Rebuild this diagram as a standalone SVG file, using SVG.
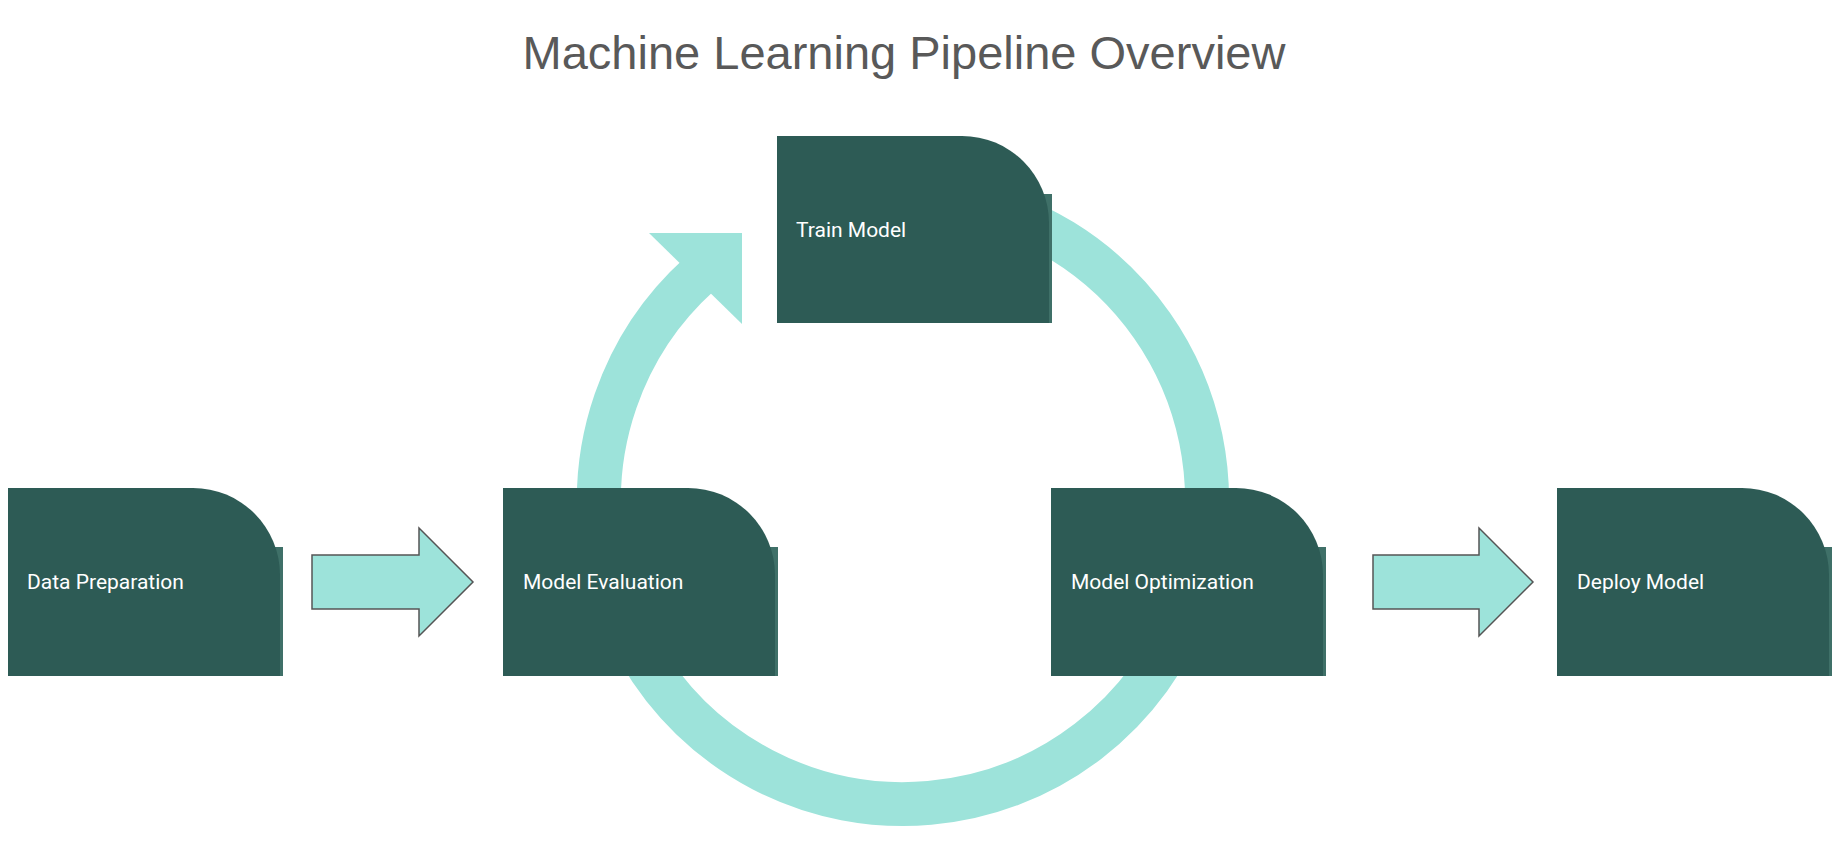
<svg xmlns="http://www.w3.org/2000/svg" width="1842" height="846" viewBox="0 0 1842 846">
  <style>
    .title { font-family: "Liberation Sans", Arial, sans-serif; font-size: 47px; fill: #595959; }
    .ring { fill: none; stroke: #9de3da; stroke-width: 44; stroke-linecap: butt; }
    .head { fill: #9de3da; stroke: none; }
    .block { fill: #9de3da; stroke: #555555; stroke-width: 1.5; stroke-linejoin: miter; }
    .back { fill: #3f7068; }
    .front { fill: #2d5b55; }
    .label { font-family: Roboto, "Noto Sans", "Liberation Sans", sans-serif; font-size: 21px; fill: #ffffff; }
  </style>
  <rect x="0" y="0" width="1842" height="846" fill="#ffffff"/>
  <text class="title" x="904" y="69" text-anchor="middle">Machine Learning Pipeline Overview</text>

  <g id="connectors">
    <path id="c-train-opt" class="ring" d="M 955.8 200.6 A 304 304 0 0 1 1202.4 552.8"/>
    <path id="c-opt-eval" class="ring" d="M 1188.7 604 A 304 304 0 0 1 639.7 652"/>
    <path id="c-eval-train" class="ring" d="M 603.6 552.8 A 304 304 0 0 1 699.6 274.1"/>
    <polygon class="head" points="649,233 742,233 742,324"/>
    <polygon id="c-prep-eval" class="block" points="312,555 419,555 419,528 473,582 419,636 419,609 312,609"/>
    <polygon id="c-opt-deploy" class="block" points="1373,555 1479,555 1479,528 1533,582 1479,636 1479,609 1373,609"/>
  </g>

  <g id="node-data-preparation">
    <rect class="back" x="8" y="547" width="275" height="129"/>
    <path class="front" d="M 8 488 H 193 A 87 87 0 0 1 280 575 V 676 H 8 Z"/>
    <text class="label" x="27" y="589">Data Preparation</text>
  </g>

  <g id="node-model-evaluation">
    <rect class="back" x="503" y="547" width="275" height="129"/>
    <path class="front" d="M 503 488 H 688 A 87 87 0 0 1 775 575 V 676 H 503 Z"/>
    <text class="label" x="523" y="589">Model Evaluation</text>
  </g>

  <g id="node-train-model">
    <rect class="back" x="777" y="194" width="275" height="129"/>
    <path class="front" d="M 777 136 H 962 A 87 87 0 0 1 1049 223 V 323 H 777 Z"/>
    <text class="label" x="796" y="237">Train Model</text>
  </g>

  <g id="node-model-optimization">
    <rect class="back" x="1051" y="547" width="275" height="129"/>
    <path class="front" d="M 1051 488 H 1236 A 87 87 0 0 1 1323 575 V 676 H 1051 Z"/>
    <text class="label" x="1071" y="589">Model Optimization</text>
  </g>

  <g id="node-deploy-model">
    <rect class="back" x="1557" y="547" width="275" height="129"/>
    <path class="front" d="M 1557 488 H 1742 A 87 87 0 0 1 1829 575 V 676 H 1557 Z"/>
    <text class="label" x="1577" y="589">Deploy Model</text>
  </g>
</svg>
